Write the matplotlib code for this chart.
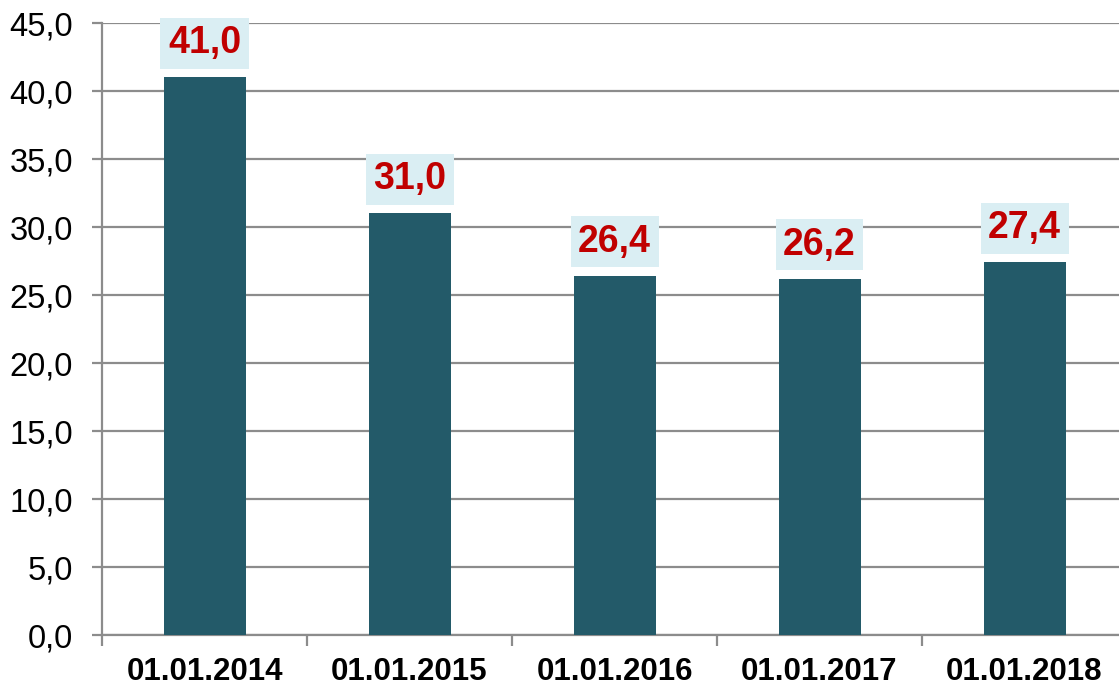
import matplotlib
matplotlib.use("Agg")
import matplotlib.pyplot as plt
from matplotlib.ticker import MultipleLocator, FuncFormatter, FixedLocator

categories = ["01.01.2014", "01.01.2015", "01.01.2016", "01.01.2017", "01.01.2018"]
values = [41.0, 31.0, 26.4, 26.2, 27.4]

plt.rcParams['font.family'] = ['Liberation Sans', 'DejaVu Sans']

W, H = 1119, 689
fig = plt.figure(figsize=(W / 100, H / 100), dpi=100)
ax = fig.add_axes([102 / W, (H - 635) / H, (1127 - 102) / W, (635 - 23) / H])

x = list(range(len(categories)))
bar_color = "#235A69"
ax.bar(x, values, width=0.4, color=bar_color, zorder=3)

ax.set_xlim(-0.5, len(categories) - 0.5)
ax.set_ylim(0, 45)
ax.yaxis.set_major_locator(MultipleLocator(5))
ax.yaxis.set_major_formatter(FuncFormatter(lambda v, p: f"{v:.1f}".replace(".", ",")))
ax.grid(axis='y', color="#8C8C8C", linewidth=1.6, zorder=0)

ax.set_xticks(x)
ax.set_xticklabels(categories, fontsize=22.5, fontweight='bold')
ax.tick_params(axis='x', length=0, pad=16)
ax.xaxis.set_minor_locator(FixedLocator([i - 0.5 for i in range(len(categories) + 1)]))
ax.tick_params(axis='x', which='minor', length=8, width=1.6, color="#8C8C8C")
ax.tick_params(axis='y', labelsize=23.5, length=7, width=1.6, color="#8C8C8C", pad=14)

for s in ['top', 'right']:
    ax.spines[s].set_visible(False)
ax.spines['left'].set_color("#8C8C8C")
ax.spines['left'].set_linewidth(1.6)
ax.spines['bottom'].set_color("#8C8C8C")
ax.spines['bottom'].set_linewidth(1.6)

for xi, v in zip(x, values):
    ax.annotate(f"{v:.1f}".replace(".", ","), xy=(xi, v), xytext=(0, 24.5),
                textcoords='offset points', ha='center', va='center',
                fontsize=27, fontweight='bold', color="#C00000", zorder=5,
                bbox=dict(boxstyle='square,pad=0.2', facecolor="#DAEEF3", edgecolor='none'))

fig.savefig("out.png", dpi=100)
